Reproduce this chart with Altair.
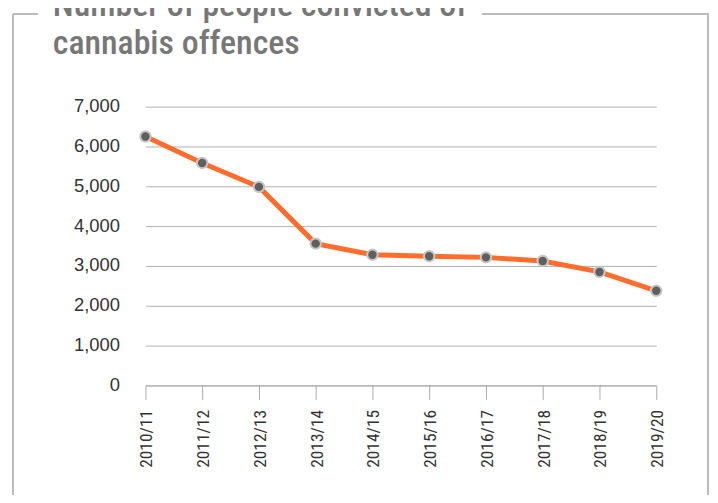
import altair as alt
import pandas as pd

# ---- data ----
years = ["2010/11", "2011/12", "2012/13", "2013/14", "2014/15",
         "2015/16", "2016/17", "2017/18", "2018/19", "2019/20"]
convictions = [6250, 5585, 4985, 3560, 3280, 3245, 3215, 3125, 2850, 2375]
y_ticks = [0, 1000, 2000, 3000, 4000, 5000, 6000, 7000]
title_lines = ["Number of people convicted of", "cannabis offences"]

df = pd.DataFrame({"year": years, "convictions": convictions})

Y_FONT = "Liberation Sans"
X_FONT = "Roboto Condensed"
TITLE_FONT = "Roboto Condensed"
FRAME = "#bbbbbb"

x = alt.X(
    "year:N", sort=years,
    scale=alt.Scale(type="point", padding=0),
    axis=alt.Axis(title=None, labelAngle=270, labelAlign="right", labelBaseline="middle",
                  labelFont=X_FONT, labelFontSize=17.5, labelColor="#333333",
                  labelPadding=10, tickSize=14, tickColor="#aaaaaa", tickWidth=1,
                  domainColor="#aaaaaa", domainWidth=1, grid=False, labelOffset=1.5),
)
y = alt.Y(
    "convictions:Q",
    scale=alt.Scale(domain=[0, 7000]),
    axis=alt.Axis(title=None, values=y_ticks, format=",.0f", ticks=False, domain=False,
                  labelFont=Y_FONT, labelFontSize=18.5, labelColor="#333333",
                  labelPadding=26, labelOffset=-1,
                  gridColor="#b0b0b0", gridWidth=1),
)

base = alt.Chart(df)
line = base.mark_line(color="#ff6d2e", strokeWidth=5).encode(x=x, y=y)
points = base.mark_point(shape="circle", filled=True, fill="#5f5f5f", stroke="#c6c6c6",
                         strokeWidth=2, size=110, opacity=1).encode(x=x, y=y)

one = alt.Data(values=[{"k": 0}])
frame_left = alt.Chart(one).mark_rule(color=FRAME, strokeWidth=2).encode(
    x=alt.value(-133), y=alt.value(-93), y2=alt.value(420))
frame_right = alt.Chart(one).mark_rule(color=FRAME, strokeWidth=2).encode(
    x=alt.value(565), y=alt.value(-93), y2=alt.value(420))
frame_top_l = alt.Chart(one).mark_rule(color=FRAME, strokeWidth=2).encode(
    x=alt.value(-133), x2=alt.value(-108), y=alt.value(-93))
frame_top_r = alt.Chart(one).mark_rule(color=FRAME, strokeWidth=2).encode(
    x=alt.value(338), x2=alt.value(566), y=alt.value(-93))

t1 = alt.Chart(alt.Data(values=[{"t": title_lines[0]}])).mark_text(
    align="left", baseline="alphabetic", font=TITLE_FONT, fontSize=34, fontWeight=500,
    color="#777777"
).encode(text="t:N", x=alt.value(-93), y=alt.value(-91))
t2 = alt.Chart(alt.Data(values=[{"t": title_lines[1]}])).mark_text(
    align="left", baseline="alphabetic", font=TITLE_FONT, fontSize=34, fontWeight=500,
    color="#777777"
).encode(text="t:N", x=alt.value(-93), y=alt.value(-52.5))

chart = alt.layer(
    frame_left, frame_right, frame_top_l, frame_top_r, t1, t2, line, points
).properties(
    width=513, height=280,
    autosize=alt.AutoSizeParams(type="none"),
    padding={"left": 138, "top": 98, "right": 54, "bottom": 109},
    background="white",
).configure_view(stroke=None)

chart.save("out.html", embed_options={"renderer": "svg", "actions": False})
